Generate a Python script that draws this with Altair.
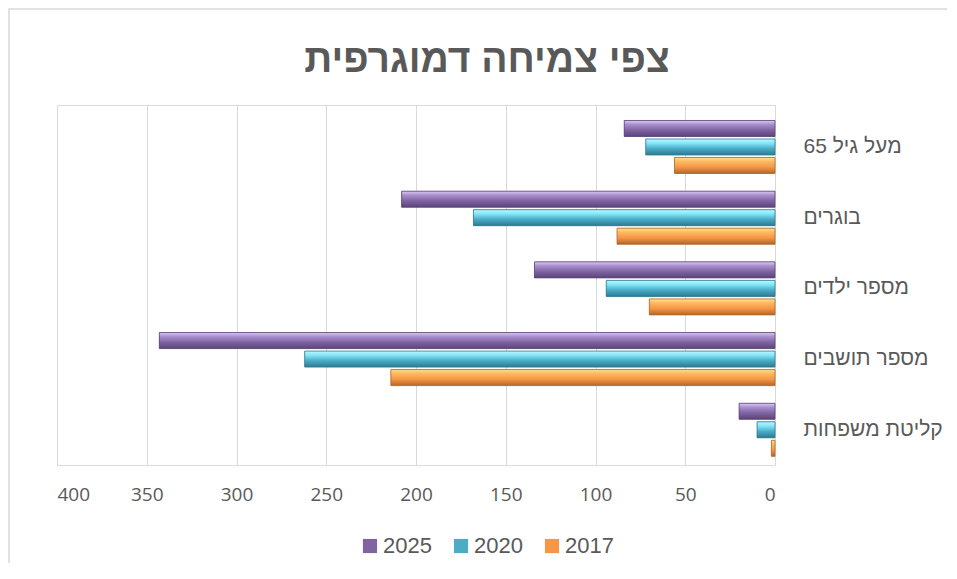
import altair as alt
import pandas as pd

title_text = "צפי צמיחה דמוגרפית"
categories = ["מעל גיל 65", "בוגרים", "מספר ילדים", "מספר תושבים", "קליטת משפחות"]
series = ["2025", "2020", "2017"]
values_2025 = [84, 208, 134, 343, 20]
values_2020 = [72, 168, 94, 262, 10]
values_2017 = [56, 88, 70, 214, 2]
x_ticks = [0, 50, 100, 150, 200, 250, 300, 350, 400]

rows = []
for s, vals in zip(series, [values_2025, values_2020, values_2017]):
    for c, v in zip(categories, vals):
        rows.append({"category": c, "series": s, "value": v})
df = pd.DataFrame(rows)

base_colors = {"2025": "#8064A2", "2020": "#4BACC6", "2017": "#F79646"}
grad_stops = {
    "2025": ["#dccbf2", "#a88fce", "#8064A2", "#5a4479"],
    "2020": ["#bff5ff", "#84e8fa", "#4BACC6", "#2c7a8f"],
    "2017": ["#ffe28f", "#fbba62", "#F79646", "#b36628"],
}

W, H = 718, 360

x_enc = alt.X("value:Q",
              scale=alt.Scale(domain=[0, 400], reverse=True, nice=False),
              axis=alt.Axis(values=x_ticks, title=None, grid=True, gridColor="#d9d9d9",
                            domain=False, ticks=False, labelFontSize=19, labelColor="#595959",
                            labelPadding=20, labelFont="Open Sans"))
y_enc = alt.Y("category:N", sort=categories,
              scale=alt.Scale(paddingInner=0.25, paddingOuter=0.171, align=0.64),
              axis=alt.Axis(orient="right", title=None, domain=False, ticks=False,
                            labelFontSize=21, labelColor="#595959", labelAlign="left",
                            labelPadding=28, labelFont="Liberation Sans", labelLimit=300))
yoff = alt.YOffset("series:N", sort=series, scale=alt.Scale(paddingInner=0.135, paddingOuter=0))

legend_layer = alt.Chart(df).mark_bar().encode(
    x=x_enc, y=y_enc, yOffset=yoff,
    color=alt.Color("series:N", sort=series,
                    scale=alt.Scale(domain=series, range=[base_colors[s] for s in series]),
                    legend=alt.Legend(title=None, orient="none", direction="horizontal",
                                      legendX=302, legendY=430, symbolType="square",
                                      symbolSize=200, symbolStrokeWidth=0,
                                      labelFontSize=22, labelColor="#595959",
                                      labelFont="Liberation Sans", columnPadding=18,
                                      labelOffset=2)),
)

layers = [legend_layer]
for s in series:
    st = grad_stops[s]
    layers.append(
        alt.Chart(df).transform_filter(alt.datum.series == s).mark_bar(
            color=alt.Gradient(gradient="linear", x1=0, x2=0, y1=0, y2=1,
                               stops=[alt.GradientStop(offset=0, color=st[0]),
                                      alt.GradientStop(offset=0.25, color=st[1]),
                                      alt.GradientStop(offset=0.6, color=st[2]),
                                      alt.GradientStop(offset=1, color=st[3])]),
            stroke=st[3], strokeWidth=0.8,
        ).encode(x=x_enc, y=y_enc, yOffset=yoff)
    )

one = pd.DataFrame({"t": [title_text]})
border = alt.Chart(one).mark_rect(
    fill=None, stroke="#d9d9d9", strokeWidth=1.5
).encode(x=alt.value(-48), x2=alt.value(W + 400), y=alt.value(-96), y2=alt.value(H + 400))

title = alt.Chart(one).mark_text(
    font="Liberation Sans", fontSize=39, fontWeight="bold", color="#595959",
    align="center", baseline="alphabetic"
).encode(text="t:N", x=alt.value(430), y=alt.value(-33))

chart = alt.layer(border, title, *layers).properties(
    width=W, height=H,
    padding={"left": 49, "top": 97, "right": 172, "bottom": 98},
    autosize=alt.AutoSizeParams(type="none"),
).configure_view(stroke=None).configure(background="white")

chart.save("out.html", embed_options={"renderer": "svg", "actions": False})
